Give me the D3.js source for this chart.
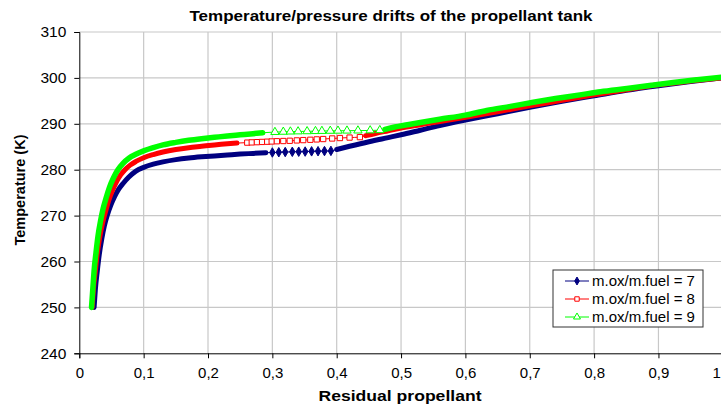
<!DOCTYPE html>
<html><head><meta charset="utf-8">
<script src="https://cdn.jsdelivr.net/npm/d3@7"></script>
<style>
html,body{margin:0;padding:0;background:#fff;overflow:hidden}
text{font-family:"Liberation Sans",Arial,sans-serif}
</style></head>
<body><svg id="chart" width="721" height="407"></svg>
<script>
// ---- data ----
const title = "Temperature/pressure drifts of the propellant tank";
const xTitle = "Residual propellant";
const yTitle = "Temperature (K)";
const xTicks = [0,0.1,0.2,0.3,0.4,0.5,0.6,0.7,0.8,0.9,1];
const xTickLabels = ["0","0,1","0,2","0,3","0,4","0,5","0,6","0,7","0,8","0,9","1"];
const yTicks = [240,250,260,270,280,290,300,310];
const yTickLabels = ["240","250","260","270","280","290","300","310"];
const seriesNames = ["m.ox/m.fuel = 7","m.ox/m.fuel = 8","m.ox/m.fuel = 9"];

// [residual propellant, temperature K]
const ratio7 = [
 [0.023,250],[0.025,254],[0.028,258],[0.031,261.5],[0.035,265],[0.039,267.8],[0.044,270.3],[0.049,272.3],
 [0.055,274.2],[0.061,275.7],[0.068,277],[0.077,278.4],[0.088,279.7],[0.10,280.5],[0.115,281.2],
 [0.13,281.7],[0.15,282.2],[0.17,282.55],[0.19,282.8],[0.21,283.0],[0.23,283.2],[0.25,283.4],
 [0.27,283.55],[0.29,283.7],
 [0.300,283.75],[0.310,283.8],[0.320,283.85],[0.331,283.9],[0.341,283.92],[0.351,283.95],[0.361,284.0],
 [0.371,284.03],[0.381,284.06],[0.391,284.1],
 [0.40,284.4],[0.42,285.1],[0.45,286.1],[0.48,287.0],[0.50,287.6],[0.53,288.6],[0.56,289.6],[0.60,290.8],
 [0.65,292.2],[0.70,293.6],[0.75,294.9],[0.80,296.1],[0.85,297.3],[0.90,298.3],[0.95,299.2],[1.0,300]
];
const ratio8 = [
 [0.020,250],[0.022,254],[0.025,258],[0.028,261.8],[0.032,265.5],[0.036,268.3],[0.041,271],[0.046,273.4],
 [0.052,275.6],[0.058,277.4],[0.064,278.8],[0.071,280],[0.079,281],[0.088,281.8],[0.10,282.6],
 [0.115,283.3],[0.13,283.85],[0.15,284.4],[0.17,284.8],[0.19,285.1],[0.21,285.4],[0.23,285.65],[0.245,285.8],
 [0.261,285.9],[0.268,285.95],[0.276,286.0],[0.284,286.05],[0.292,286.1],[0.299,286.15],[0.307,286.2],
 [0.317,286.25],[0.327,286.3],[0.338,286.38],[0.348,286.45],[0.359,286.52],[0.369,286.6],[0.379,286.68],
 [0.393,286.8],[0.405,286.9],[0.420,287.0],[0.436,287.1],
 [0.445,287.4],[0.46,287.9],[0.48,288.5],[0.50,289.1],[0.53,289.8],[0.56,290.5],[0.60,291.4],[0.65,292.6],
 [0.70,293.9],[0.75,295.1],[0.80,296.3],[0.85,297.4],[0.90,298.5],[0.95,299.3],[1.0,300]
];
const ratio9 = [
 [0.019,250],[0.021,254],[0.023,258],[0.026,262],[0.029,265.5],[0.033,268.8],[0.037,271.5],[0.042,274],
 [0.047,276.2],[0.053,278.2],[0.060,280],[0.068,281.4],[0.077,282.5],[0.087,283.3],[0.10,284.1],
 [0.115,284.8],[0.13,285.4],[0.15,285.95],[0.17,286.4],[0.19,286.75],[0.21,287.05],[0.23,287.35],
 [0.25,287.6],[0.27,287.85],[0.285,288.05],
 [0.304,288.2],[0.317,288.25],[0.328,288.3],[0.340,288.33],[0.354,288.36],[0.367,288.4],[0.377,288.43],
 [0.390,288.46],[0.402,288.48],[0.416,288.5],[0.433,288.52],[0.452,288.55],[0.467,288.6],
 [0.475,288.8],[0.49,289.3],[0.51,289.8],[0.53,290.3],[0.56,291.0],[0.60,291.9],[0.633,292.9],[0.67,293.8],
 [0.7055,294.7],[0.74,295.5],[0.778,296.3],[0.81,297.0],[0.851,297.7],[0.89,298.4],[0.923,299.0],
 [0.96,299.6],[1.0,300.2]
];
// range of residual propellant where the individual samples are visible as separate markers
const sparse7 = [0.295, 0.395];
const sparse8 = [0.25, 0.44];
const sparse9 = [0.29, 0.47];

// ---- styles ----
const series = [
  {name: seriesNames[0], data: ratio7, sparse: sparse7, color: "#000080", band: 5,   sym: d3.symbolDiamond,  size: 26, fill: "#000080"},
  {name: seriesNames[1], data: ratio8, sparse: sparse8, color: "#ff0000", band: 5,   sym: d3.symbolSquare,   size: 28, fill: "#ffffff"},
  {name: seriesNames[2], data: ratio9, sparse: sparse9, color: "#00ff00", band: 5.5, sym: d3.symbolTriangle, size: 30, fill: "#ffffff"}
];

const svg = d3.select("#chart");
const x = d3.scaleLinear().domain([0,1]).range([79.3, 722.8]);
const y = d3.scaleLinear().domain([240,310]).range([353.3, 32]);

// grid
const grid = svg.append("g").attr("stroke", "#c8c8c8").attr("stroke-width", 1.2);
grid.selectAll("line.h").data(yTicks.filter(t => t > 240)).join("line")
  .attr("x1", x(0)).attr("x2", x(1)).attr("y1", d => y(d)).attr("y2", d => y(d));
grid.selectAll("line.v").data(xTicks.filter(t => t > 0)).join("line")
  .attr("y1", y(240)).attr("y2", y(310)).attr("x1", d => x(d)).attr("x2", d => x(d));

// axes
const yAxis = d3.axisLeft(y).tickValues(yTicks).tickFormat((d,i) => yTickLabels[i]).tickSize(5).tickPadding(8);
const xAxis = d3.axisBottom(x).tickValues(xTicks).tickFormat((d,i) => xTickLabels[i]).tickSize(5).tickPadding(9);
const gy = svg.append("g").attr("transform", `translate(${x(0)},0)`).call(yAxis);
const gx = svg.append("g").attr("transform", `translate(0,${y(240)})`).call(xAxis);
[gx, gy].forEach(g => {
  g.select(".domain").attr("stroke", "#000").attr("stroke-width", 1);
  g.selectAll(".tick line").attr("stroke", "#000");
  g.selectAll("text").attr("font-size", 15).attr("fill", "#000")
    .style("font-family", '"Liberation Sans", Arial, sans-serif');
});
gy.selectAll("text").attr("font-size", 15.5);
// the last x label sits at the window edge: keep it visible
gx.selectAll(".tick").filter(d => d === 1).select("text")
  .attr("text-anchor", "start").attr("x", 712 - x(1));

// series
const line = d3.line().x(d => x(d[0])).y(d => y(d[1])).curve(d3.curveMonotoneX);
series.forEach(s => {
  const g = svg.append("g");
  const before = s.data.filter(d => d[0] <= s.sparse[0]);
  const after = s.data.filter(d => d[0] >= s.sparse[1]);
  const mid = s.data.filter(d => d[0] > s.sparse[0] && d[0] < s.sparse[1]);
  g.append("path").attr("d", line(s.data)).attr("fill", "none").attr("stroke", s.color).attr("stroke-width", 1);
  [before, after].forEach(part => {
    g.append("path").attr("d", line(part)).attr("fill", "none").attr("stroke", s.color)
      .attr("stroke-width", s.band).attr("stroke-linecap", "round").attr("stroke-linejoin", "round");
  });
  g.selectAll("path.m").data(mid).join("path")
    .attr("d", d3.symbol().type(s.sym).size(s.size))
    .attr("transform", d => `translate(${x(d[0])},${y(d[1])})`)
    .attr("fill", s.fill).attr("stroke", s.color).attr("stroke-width", 1);
});

// title & axis titles
svg.append("text").attr("x", 391).attr("y", 21).attr("text-anchor", "middle")
  .attr("font-size", 15.5).attr("font-weight", "bold")
  .attr("textLength", 403).attr("lengthAdjust", "spacingAndGlyphs").text(title);
svg.append("text").attr("x", 400).attr("y", 401).attr("text-anchor", "middle")
  .attr("font-size", 15.5).attr("font-weight", "bold")
  .attr("textLength", 163).attr("lengthAdjust", "spacingAndGlyphs").text(xTitle);
svg.append("text").attr("transform", "translate(25,190) rotate(-90)").attr("text-anchor", "middle")
  .attr("font-size", 15).attr("font-weight", "bold")
  .attr("textLength", 111).attr("lengthAdjust", "spacingAndGlyphs").text(yTitle);

// legend
const lg = svg.append("g").attr("transform", "translate(553,270)");
lg.append("rect").attr("x", 0).attr("y", 0).attr("width", 150).attr("height", 57)
  .attr("fill", "#fff").attr("stroke", "#333").attr("stroke-width", 1);
series.forEach((s, i) => {
  const ry = 11 + i * 18;
  lg.append("line").attr("x1", 12).attr("x2", 36).attr("y1", ry).attr("y2", ry).attr("stroke", s.color).attr("stroke-width", 1);
  lg.append("path").attr("d", d3.symbol().type(s.sym).size(s.size * 0.7)).attr("transform", `translate(24,${ry})`)
    .attr("fill", s.fill).attr("stroke", s.color).attr("stroke-width", 1);
  lg.append("text").attr("x", 39).attr("y", ry + 5).attr("font-size", 15).text(s.name);
});
</script></body></html>
